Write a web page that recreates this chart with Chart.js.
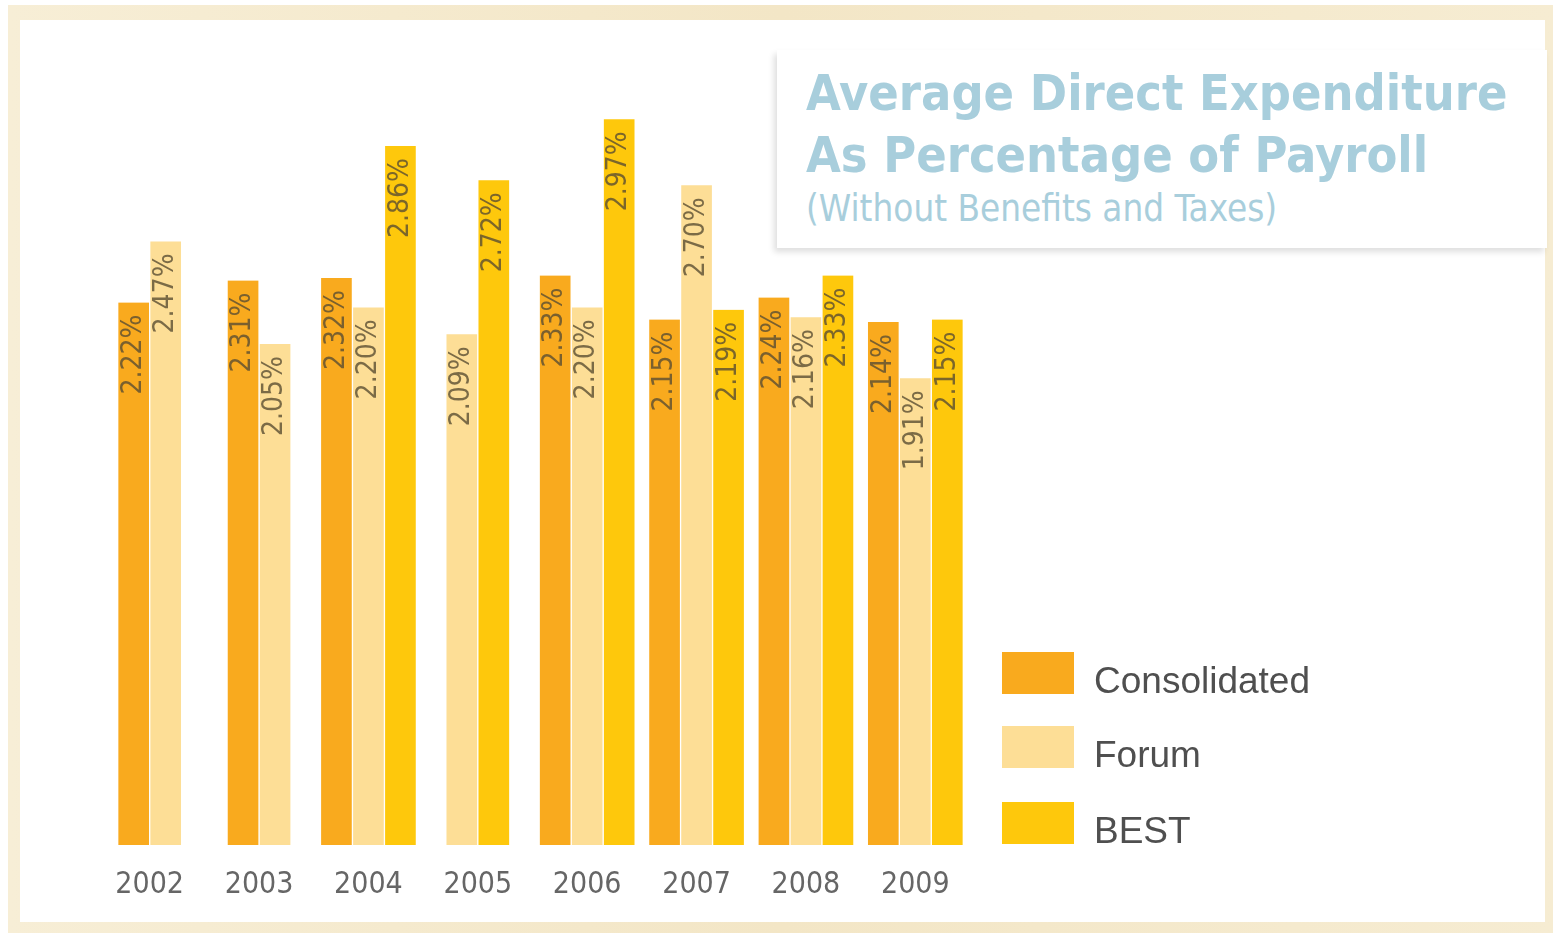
<!DOCTYPE html>
<html>
<head>
<meta charset="utf-8">
<title>Average Direct Expenditure As Percentage of Payroll</title>
<script src="https://cdn.jsdelivr.net/npm/chart.js@4.4.1/dist/chart.umd.min.js"></script>
<style>
  html, body { margin: 0; padding: 0; width: 1553px; height: 933px; overflow: hidden; background: #fff; }
  #frame { position: absolute; left: 8px; top: 5px; width: 1545px; height: 928px;
           background: linear-gradient(90deg, #F7EED6, #F3E6C6 50%, #F6ECD2); }
  #panel { position: absolute; left: 20px; top: 20px; width: 1525px; height: 902px; background: #fff; }
  #titleBox { position: absolute; left: 777px; top: 50px; width: 770px; height: 198px; background: #fff;
              box-shadow: -3px 4px 6px rgba(0,0,0,0.13); }
  .t { position: absolute; left: 806px; white-space: nowrap; color: #A8CEDC; line-height: 1; }
  .t.big { font-family: "DejaVu Sans Condensed", "DejaVu Sans", sans-serif; font-weight: bold; font-size: 50px; }
  .t.sub { font-family: "DejaVu Sans Condensed", "DejaVu Sans", sans-serif; font-size: 36.5px; }
  #chart { position: absolute; left: 0; top: 0; }
  .lg-box { position: absolute; left: 1002px; width: 72px; height: 42px; }
  .lg-txt { position: absolute; left: 1094px; font-family: "Liberation Sans", Arial, sans-serif;
            font-size: 37px; line-height: 1; color: #4f4f4f; white-space: nowrap; }
</style>
</head>
<body>
<div id="frame"></div>
<div id="panel"></div>
<div id="titleBox"></div>
<div class="t big" style="top:68px">Average Direct Expenditure</div>
<div class="t big" style="top:130px">As Percentage of Payroll</div>
<div class="t sub" style="top:191px">(Without Benefits and Taxes)</div>
<canvas id="chart" width="1553" height="933"></canvas>
<div id="legend"></div>
<script>
// данные графика
const years = ["2002", "2003", "2004", "2005", "2006", "2007", "2008", "2009"];
const seriesNames = ["Consolidated", "Forum", "BEST"];
const consolidated = [2.22, 2.31, 2.32, null, 2.33, 2.15, 2.24, 2.14];
const forum = [2.47, 2.05, 2.20, 2.09, 2.20, 2.70, 2.16, 1.91];
const best = [null, null, 2.86, 2.72, 2.97, 2.19, 2.33, 2.15];
const barColors = ["#F9AA1E", "#FDDE96", "#FEC80C"];

const numFont = "'DejaVu Sans Condensed', sans-serif";

// подписи значений внутри столбцов (повёрнутые)
const barValueLabels = {
    id: "barValueLabels",
    afterDatasetsDraw(chart) {
        const ctx = chart.ctx;
        ctx.save();
        ctx.font = "28px " + numFont;
        ctx.fillStyle = "rgba(90, 78, 50, 0.8)";
        ctx.textAlign = "right";
        ctx.textBaseline = "middle";
        chart.data.datasets.forEach((ds, i) => {
            chart.getDatasetMeta(i).data.forEach((bar, j) => {
                const v = ds.data[j];
                if (v == null) return;
                ctx.save();
                ctx.translate(bar.x, bar.y + 12);
                ctx.rotate(-Math.PI / 2);
                ctx.fillText(v.toFixed(2) + "%", 0, 0);
                ctx.restore();
            });
        });
        ctx.restore();
    }
};

const allSeries = [consolidated, forum, best];

new Chart(document.getElementById("chart"), {
    type: "bar",
    data: {
        labels: years,
        datasets: allSeries.map((values, i) => ({
            label: seriesNames[i],
            data: values,
            backgroundColor: barColors[i],
            borderColor: "#fff",
            borderWidth: { left: 1, right: 1, top: 0, bottom: 0 },
            barThickness: 32,
            skipNull: true
        }))
    },
    options: {
        responsive: false,
        animation: false,
        layout: { padding: { left: 95, right: 583, top: 63, bottom: 8 } },
        plugins: {
            legend: { display: false },
            tooltip: { enabled: false }
        },
        scales: {
            x: {
                grid: { display: false, drawTicks: false },
                border: { display: false },
                ticks: { color: "#666", font: { family: numFont, size: 30 }, padding: 22 }
            },
            y: { display: false, min: 0, max: 3.2 }
        }
    },
    plugins: [barValueLabels]
});

// легенда
const legend = document.getElementById("legend");
const legendTops = [652, 726, 802];
legend.innerHTML = seriesNames.map((name, i) => `
    <div class="lg-box" style="top:${legendTops[i]}px;background:${barColors[i]}"></div>
    <div class="lg-txt" style="top:${legendTops[i] + 10}px">${name}</div>
`).join("");
</script>
</body>
</html>
